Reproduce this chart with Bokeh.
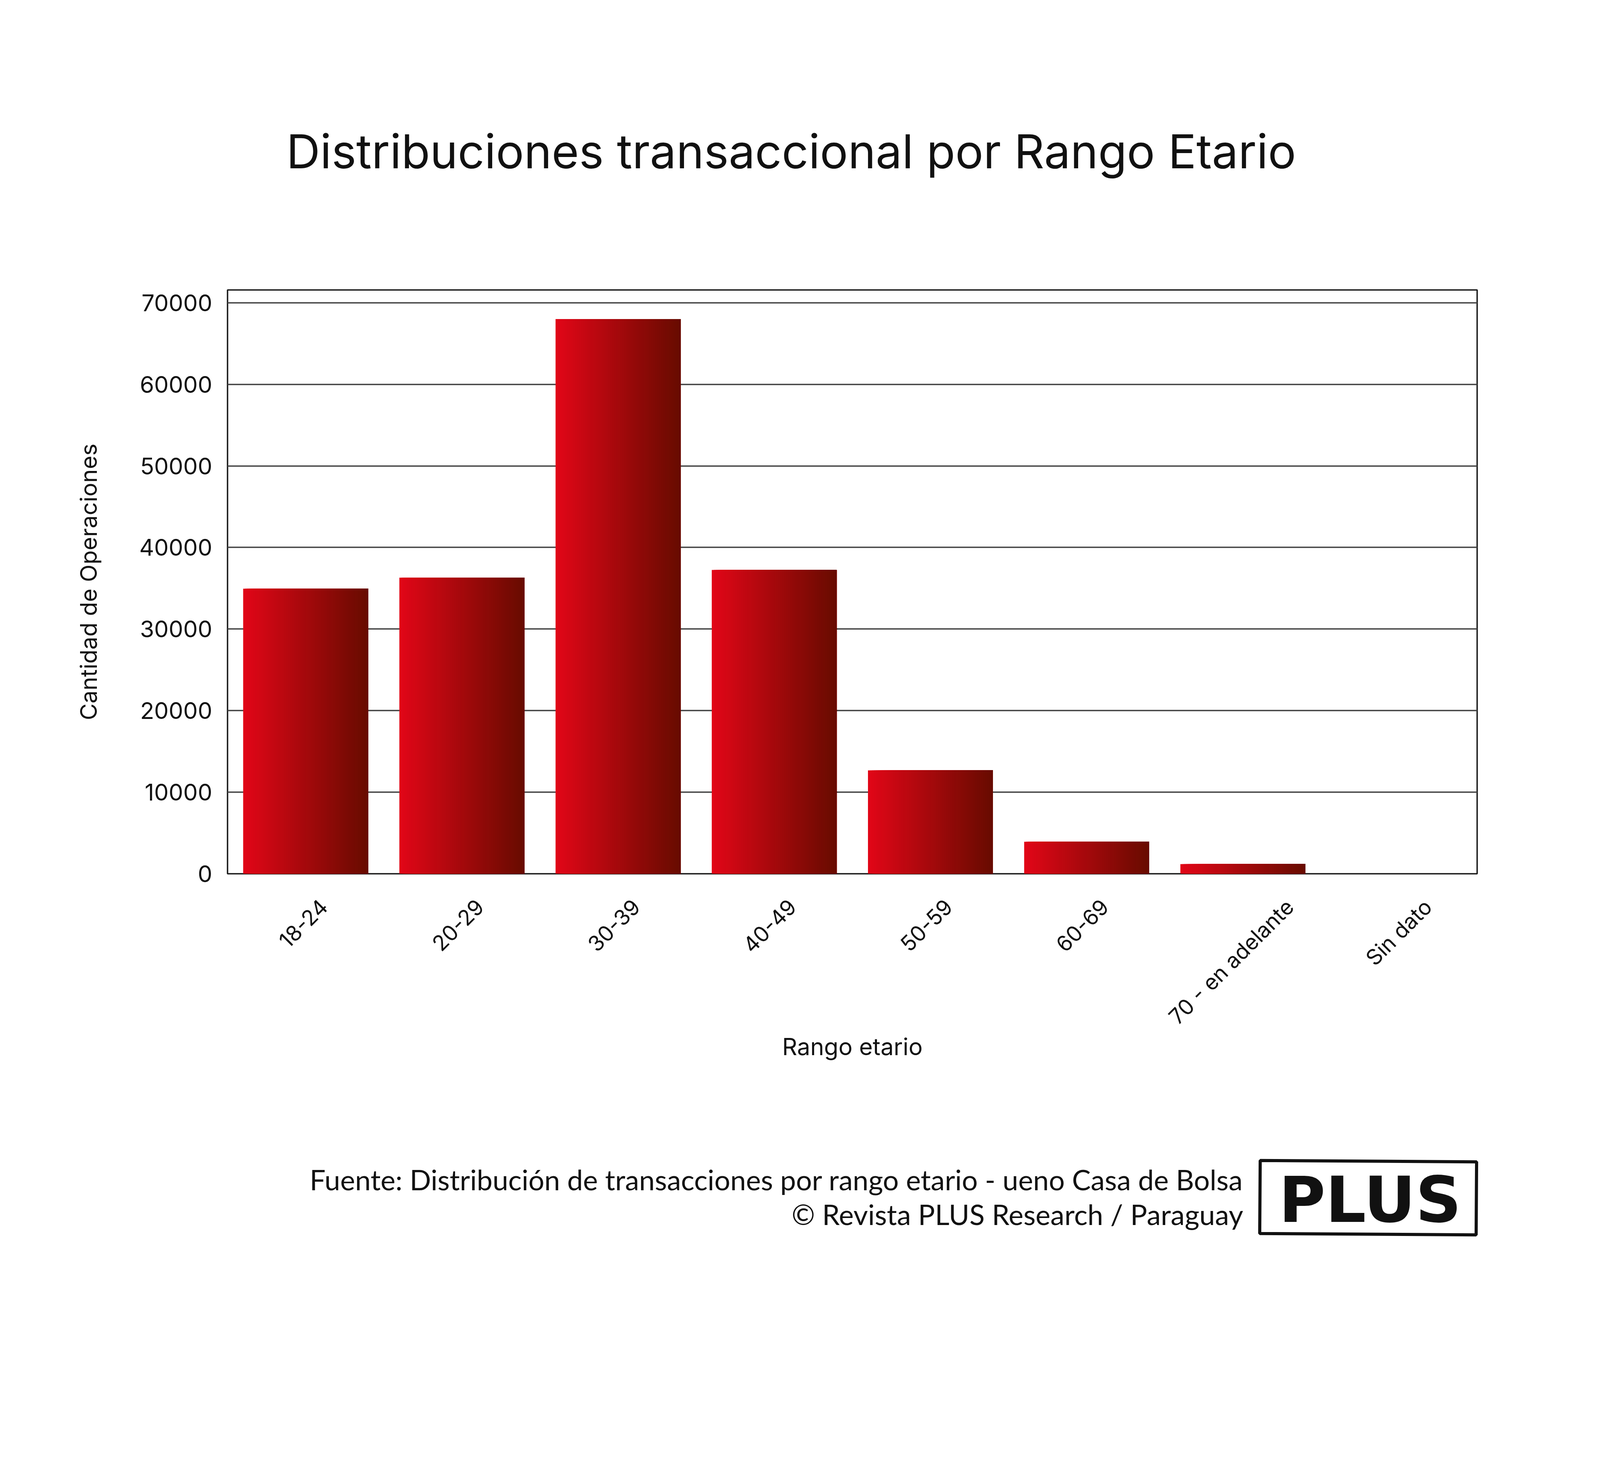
import math
from bokeh.plotting import figure
from bokeh.models import (Range1d, FixedTicker, CustomJSTickFormatter, ColumnDataSource)
from bokeh.transform import dodge
from bokeh.layouts import column
from bokeh.core.properties import value
from bokeh.embed import file_html
from bokeh.resources import INLINE

# ---------------- data ----------------
title_text = "Distribuciones transaccional por Rango Etario"
categories = ["18-24", "20-29", "30-39", "40-49", "50-59", "60-69",
              "70 - en adelante", "Sin dato"]
operaciones = [34950, 36300, 68000, 37250, 12680, 3920, 1180, 0]
y_ticks = [0, 10000, 20000, 30000, 40000, 50000, 60000, 70000]
y_max = 71570
x_label = "Rango etario"
y_label = "Cantidad de Operaciones"
source_lines = ["Fuente: Distribución de transacciones por rango etario - ueno Casa de Bolsa",
                "© Revista PLUS Research / Paraguay"]
logo_text = "PLUS"

# ---------------- layout constants (CSS px) ----------------
W = 4090
H_HEAD = 640
H_CHART = 2147
H_FOOT = 639
BL, BR, BT, BB = 582, 309, 102, 550
FONT = "Inter"
INK = "#111111"


def no_align(fig):
    try:
        fig.frame_align = False
    except AttributeError:
        pass


# ---------------- header (title) ----------------
head = figure(width=W, height=H_HEAD, x_range=Range1d(0, W), y_range=Range1d(0, H_HEAD),
              x_axis_type=None, y_axis_type=None, toolbar_location=None,
              output_backend="svg", outline_line_color=None, title=None, min_border=0)
no_align(head)
head.text(x=[2025], y=[253], text=[title_text], text_align="center",
          text_baseline="alphabetic", text_font=value(FONT),
          text_font_size="120px", text_color=INK)

# ---------------- chart ----------------
n_cat = len(categories)
x_pos = [i + 0.5 for i in range(n_cat)]          # slot centres of the categories
p = figure(width=W, height=H_CHART, x_range=Range1d(0, n_cat),
           y_range=Range1d(0, y_max),
           toolbar_location=None, output_backend="svg", title=None,
           min_border_left=BL, min_border_right=BR,
           min_border_top=BT, min_border_bottom=BB)
no_align(p)
p.outline_line_color = "#1a1a1a"
p.outline_line_width = 3.6
p.xgrid.visible = False

src = ColumnDataSource(dict(x=x_pos, cat=categories, val=operaciones))
N = 64
bar_w = 0.8
c0 = (225, 6, 23)
c1 = (104, 11, 0)
for k in range(N):
    left = -bar_w / 2 + k * bar_w / N
    right = bar_w / 2
    t = k / (N - 1)
    col = "#%02x%02x%02x" % tuple(int(round(a + (b - a) * t)) for a, b in zip(c0, c1))
    p.vbar(x=dodge("x", (left + right) / 2), top="val", bottom=0,
           width=right - left, source=src, fill_color=col, line_color=None)

yt = FixedTicker(ticks=y_ticks)
p.yaxis.ticker = yt
p.ygrid.ticker = yt
p.ygrid.grid_line_color = "#444444"
p.ygrid.grid_line_width = 3.6
p.yaxis.axis_line_color = None
p.yaxis.major_tick_line_color = None
p.yaxis.minor_tick_line_color = None
p.yaxis.major_label_text_font = FONT
p.yaxis.major_label_text_font_size = "59px"
p.yaxis.major_label_text_color = INK
p.yaxis.major_label_standoff = 33
p.yaxis.axis_label = y_label
p.yaxis.axis_label_text_font = FONT
p.yaxis.axis_label_text_font_size = "59px"
p.yaxis.axis_label_text_font_style = "normal"
p.yaxis.axis_label_text_color = INK
p.yaxis.axis_label_standoff = 92

# category labels: rotated 45 degrees, centred under each bar like the original
lab_fs = 55
frame_w = W - BL - BR
per_cat = frame_w / n_cat
pos = [x + 0.3 * 0.56 * lab_fs * min(len(c), 13) / per_cat for x, c in zip(x_pos, categories)]
xa = p.xaxis[0]
xa.ticker = FixedTicker(ticks=pos)
xa.formatter = CustomJSTickFormatter(args=dict(pos=pos, names=categories), code="""
    let best = 0;
    for (let i = 1; i < pos.length; i++) {
        if (Math.abs(pos[i] - tick) < Math.abs(pos[best] - tick)) best = i;
    }
    return names[best];
""")
xa.major_label_orientation = math.pi / 4
xa.axis_line_color = None
xa.major_tick_line_color = None
xa.minor_tick_line_color = None
xa.major_tick_out = 0
xa.major_label_standoff = 75
xa.major_label_text_font = FONT
xa.major_label_text_font_size = "%dpx" % lab_fs
xa.major_label_text_color = INK
xa.axis_label = x_label
xa.axis_label_text_font = FONT
xa.axis_label_text_font_size = "60px"
xa.axis_label_text_font_style = "normal"
xa.axis_label_text_color = INK
xa.axis_label_standoff = -18

# ---------------- footer ----------------
foot = figure(width=W, height=H_FOOT, x_range=Range1d(0, W), y_range=Range1d(0, H_FOOT),
              x_axis_type=None, y_axis_type=None, toolbar_location=None,
              output_backend="svg", outline_line_color=None, title=None, min_border=0)
no_align(foot)
foot.text(x=[3182, 3182], y=[407, 318], text=source_lines, text_align="right",
          text_baseline="alphabetic", text_font=value("Lato"),
          text_font_size="72px", text_color=INK)
foot.rect(x=[3502], y=[359.5], width=[554], height=[187], angle=[-0.0065],
          fill_color=None, line_color=INK, line_width=8)
foot.text(x=[3507], y=[354], text=[logo_text], text_align="center",
          text_baseline="alphabetic", text_font=value("DejaVu Sans"),
          text_font_style="bold", text_font_size="163px", text_color=INK)

layout = column(head, p, foot)
open("out.html", "w").write(file_html(layout, INLINE))
